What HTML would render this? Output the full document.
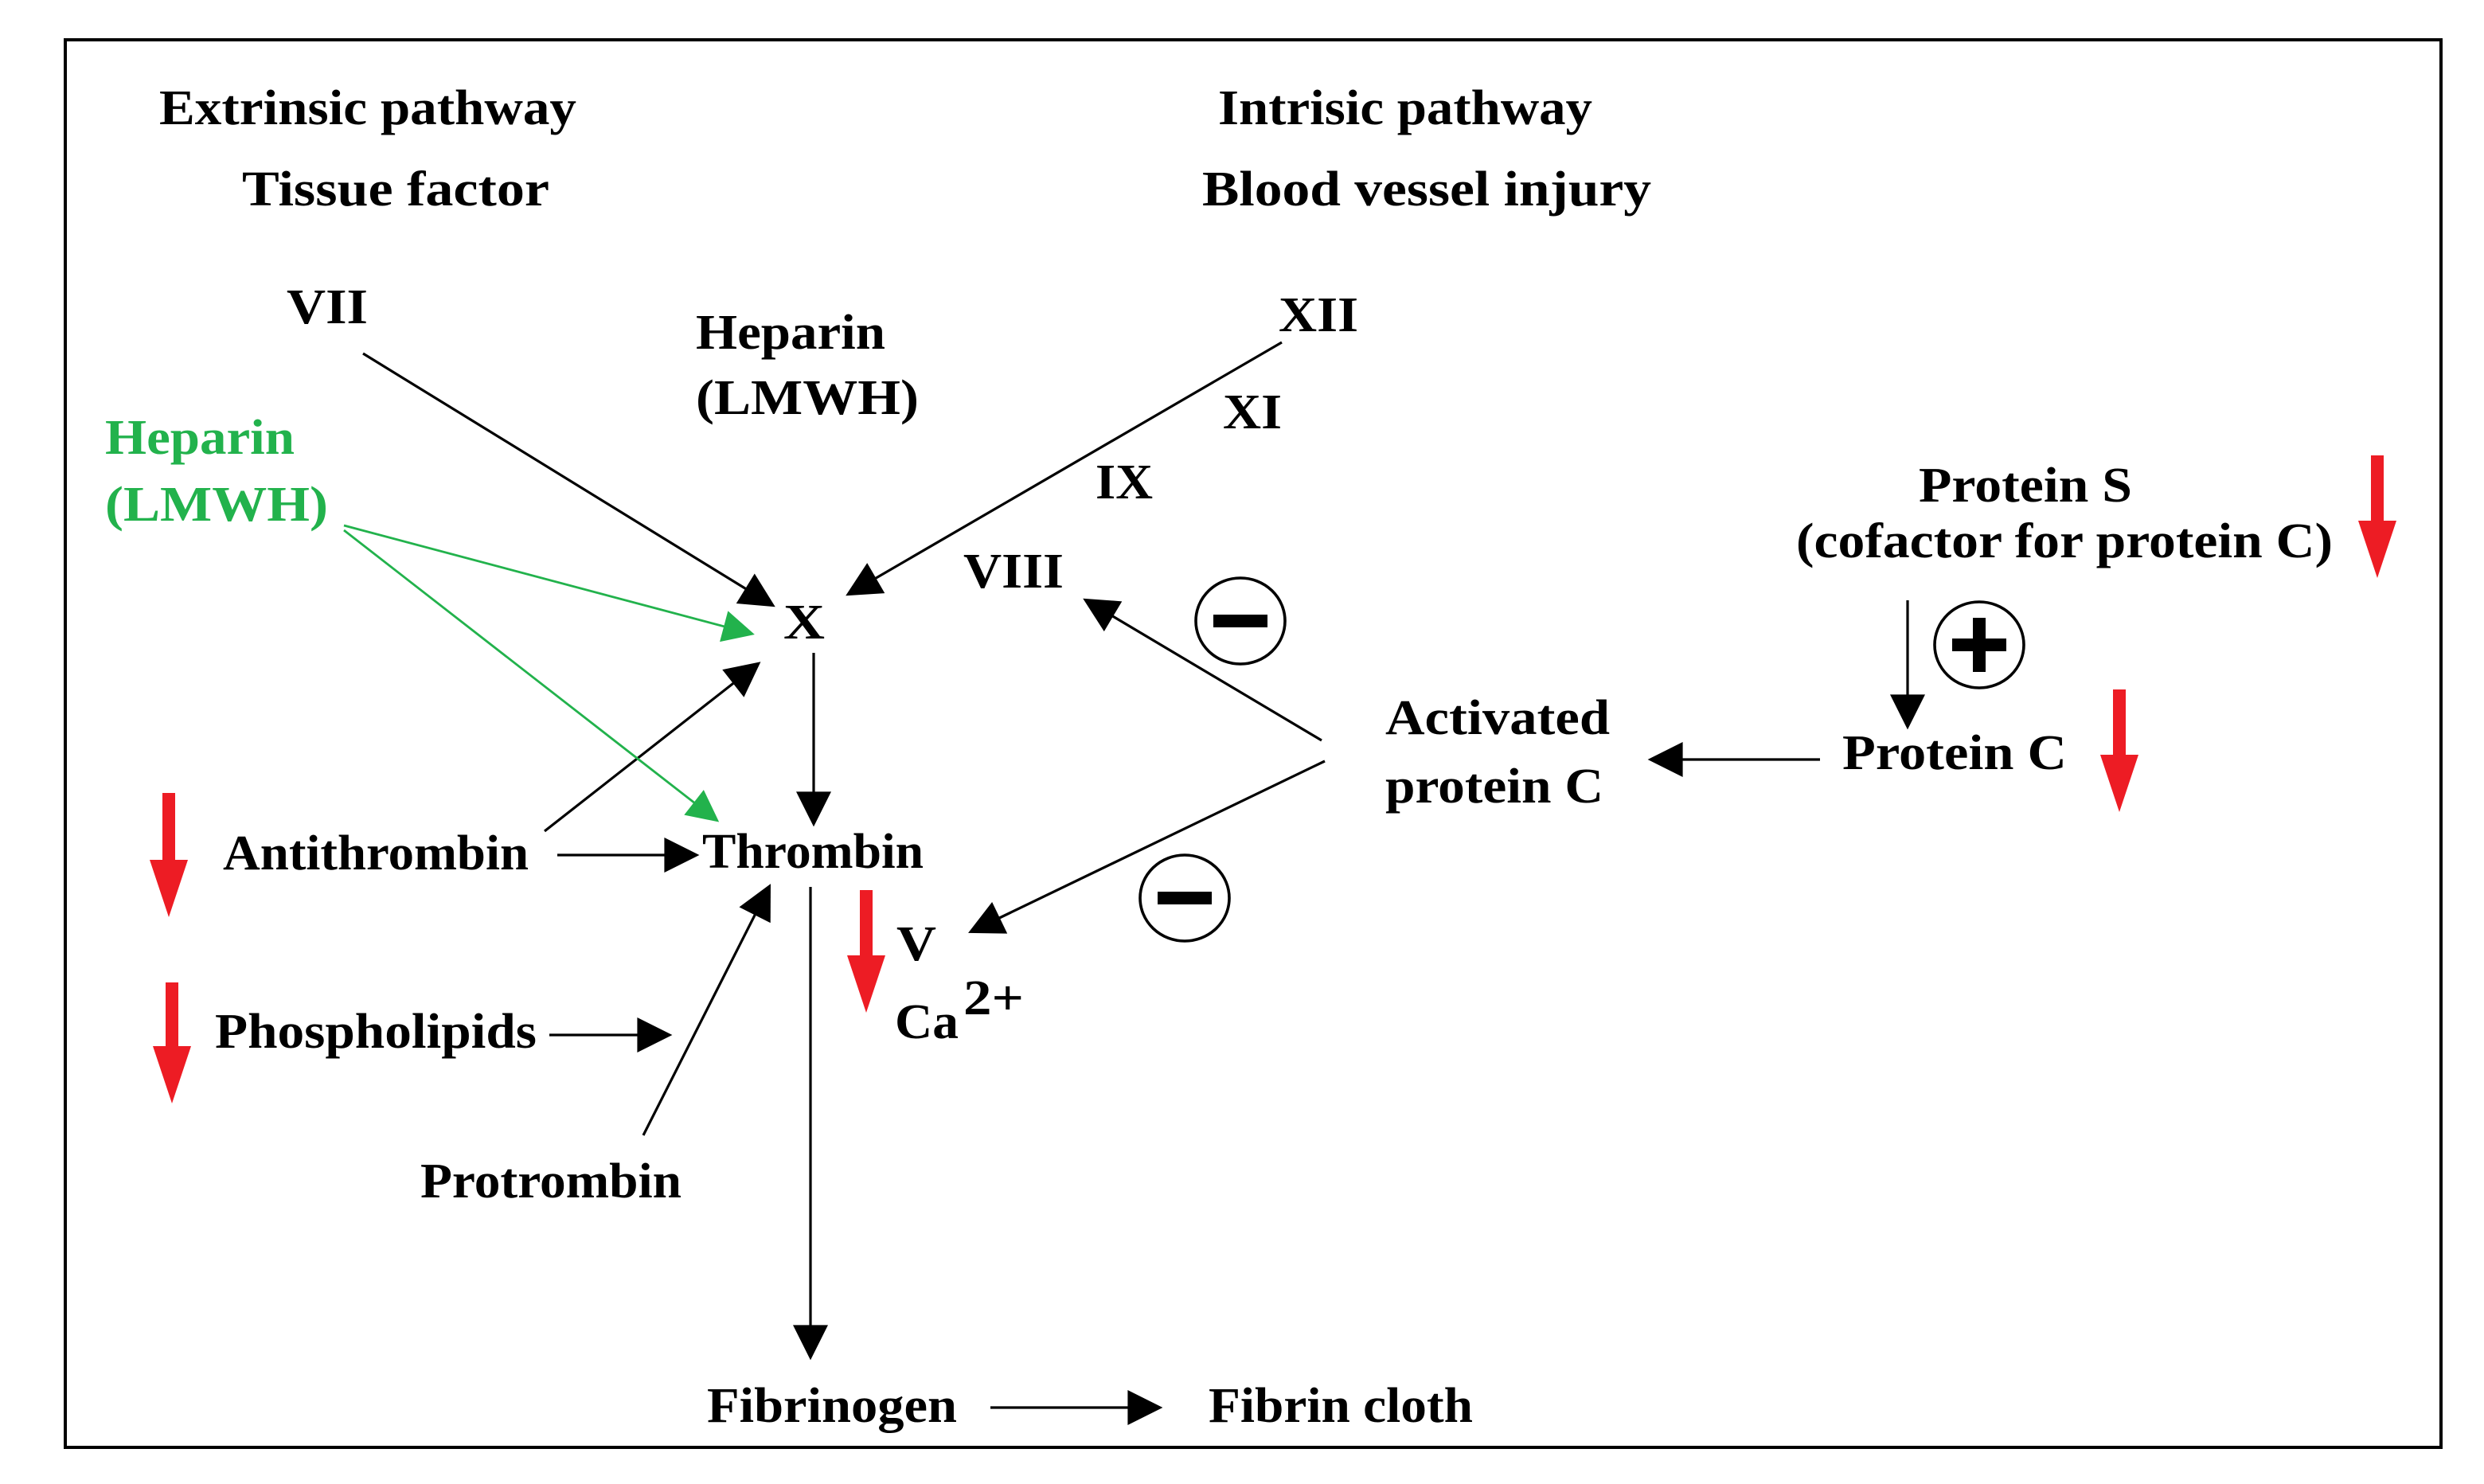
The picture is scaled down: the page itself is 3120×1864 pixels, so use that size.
<!DOCTYPE html>
<html><head><meta charset="utf-8"><style>
html,body{margin:0;padding:0;background:#fff;}
svg{display:block}
text{font-family:"Liberation Serif",serif;font-weight:bold;font-size:31px;fill:#000}
.g{fill:#22b24c}
</style></head><body>
<svg width="3120" height="1864" viewBox="0 0 1560 932" xmlns="http://www.w3.org/2000/svg">
<defs>
<marker id="ab" viewBox="0 0 10 10" refX="9" refY="5" markerWidth="26" markerHeight="22" markerUnits="userSpaceOnUse" orient="auto"><path d="M0,0L10,5L0,10z" fill="#000"/></marker>
<marker id="ag" viewBox="0 0 10 10" refX="9" refY="5" markerWidth="28" markerHeight="20" markerUnits="userSpaceOnUse" orient="auto"><path d="M0,0L10,5L0,10z" fill="#22b24c"/></marker>
</defs>
<rect x="41" y="25" width="1492" height="884" fill="none" stroke="#000" stroke-width="2"/>
<g lengthAdjust="spacingAndGlyphs">
<text x="100" y="78" textLength="262" lengthAdjust="spacingAndGlyphs">Extrinsic pathway</text>
<text x="152" y="129" textLength="193" lengthAdjust="spacingAndGlyphs">Tissue factor</text>
<text x="765" y="78" textLength="235" lengthAdjust="spacingAndGlyphs">Intrisic pathway</text>
<text x="755" y="129" textLength="282" lengthAdjust="spacingAndGlyphs">Blood vessel injury</text>
<text x="180" y="203" textLength="51" lengthAdjust="spacingAndGlyphs">VII</text>
<text x="437" y="219" textLength="119" lengthAdjust="spacingAndGlyphs">Heparin</text>
<text x="437" y="260" textLength="140" lengthAdjust="spacingAndGlyphs">(LMWH)</text>
<text x="803" y="208" textLength="50" lengthAdjust="spacingAndGlyphs">XII</text>
<text x="768" y="269" textLength="37" lengthAdjust="spacingAndGlyphs">XI</text>
<text x="688" y="313" textLength="36" lengthAdjust="spacingAndGlyphs">IX</text>
<text x="605" y="369" textLength="63" lengthAdjust="spacingAndGlyphs">VIII</text>
<text class="g" x="66" y="285" textLength="119" lengthAdjust="spacingAndGlyphs">Heparin</text>
<text class="g" x="66" y="327" textLength="140" lengthAdjust="spacingAndGlyphs">(LMWH)</text>
<text x="492" y="401" textLength="26" lengthAdjust="spacingAndGlyphs">X</text>
<text x="1205" y="315" textLength="134" lengthAdjust="spacingAndGlyphs">Protein S</text>
<text x="1128" y="350" textLength="337" lengthAdjust="spacingAndGlyphs">(cofactor for protein C)</text>
<text x="870" y="461" textLength="141" lengthAdjust="spacingAndGlyphs">Activated</text>
<text x="870" y="504" textLength="137" lengthAdjust="spacingAndGlyphs">protein C</text>
<text x="1157" y="483" textLength="141" lengthAdjust="spacingAndGlyphs">Protein C</text>
<text x="140" y="546" textLength="192" lengthAdjust="spacingAndGlyphs">Antithrombin</text>
<text x="441" y="545" textLength="139" lengthAdjust="spacingAndGlyphs">Thrombin</text>
<text x="563" y="603" textLength="25" lengthAdjust="spacingAndGlyphs">V</text>
<text x="562" y="652" textLength="40" lengthAdjust="spacingAndGlyphs">Ca</text>
<text x="605" y="637" textLength="38" lengthAdjust="spacingAndGlyphs">2+</text>
<text x="135" y="658" textLength="202" lengthAdjust="spacingAndGlyphs">Phospholipids</text>
<text x="264" y="752" textLength="164" lengthAdjust="spacingAndGlyphs">Protrombin</text>
<text x="444" y="893" textLength="157" lengthAdjust="spacingAndGlyphs">Fibrinogen</text>
<text x="759" y="893" textLength="166" lengthAdjust="spacingAndGlyphs">Fibrin cloth</text>
</g>
<g stroke="#000" stroke-width="1.6" fill="none">
<line x1="228" y1="222" x2="485" y2="380" marker-end="url(#ab)"/>
<line x1="805" y1="215" x2="533" y2="373" marker-end="url(#ab)"/>
<line x1="511" y1="410" x2="511" y2="517" marker-end="url(#ab)"/>
<line x1="342" y1="522" x2="476" y2="417" marker-end="url(#ab)"/>
<line x1="350" y1="537" x2="437" y2="537" marker-end="url(#ab)"/>
<line x1="345" y1="650" x2="420" y2="650" marker-end="url(#ab)"/>
<line x1="404" y1="713" x2="483" y2="557" marker-end="url(#ab)"/>
<line x1="509" y1="557" x2="509" y2="852" marker-end="url(#ab)"/>
<line x1="622" y1="884" x2="728" y2="884" marker-end="url(#ab)"/>
<line x1="830" y1="465" x2="682" y2="377" marker-end="url(#ab)"/>
<line x1="832" y1="478" x2="610" y2="585" marker-end="url(#ab)"/>
<line x1="1143" y1="477" x2="1037" y2="477" marker-end="url(#ab)"/>
<line x1="1198" y1="377" x2="1198" y2="456" marker-end="url(#ab)"/>
</g>
<g stroke="#22b24c" stroke-width="1.4">
<line x1="216" y1="330" x2="472" y2="398" marker-end="url(#ag)"/>
<line x1="216" y1="333" x2="450" y2="515" marker-end="url(#ag)"/>
</g>
<g fill="none" stroke="#000" stroke-width="1.8">
<ellipse cx="779" cy="390" rx="28" ry="27"/>
<ellipse cx="744" cy="564" rx="28" ry="27"/>
<ellipse cx="1243" cy="405" rx="28" ry="27"/>
</g>
<g fill="#000">
<rect x="762" y="386" width="34" height="8"/>
<rect x="727" y="560" width="34" height="8"/>
<rect x="1226" y="401" width="34" height="8"/>
<rect x="1239" y="388" width="8" height="34"/>
</g>
<g fill="#ed1c24">
<polygon points="102,498 110,498 110,540 118,540 106,576 94,540 102,540"/>
<polygon points="104,617 112,617 112,657 120,657 108,693 96,657 104,657"/>
<polygon points="540,559 548,559 548,600 556,600 544,636 532,600 540,600"/>
<polygon points="1489,286 1497,286 1497,327 1505,327 1493,363 1481,327 1489,327"/>
<polygon points="1327,433 1335,433 1335,474 1343,474 1331,510 1319,474 1327,474"/>
</g>
</svg>
</body></html>
